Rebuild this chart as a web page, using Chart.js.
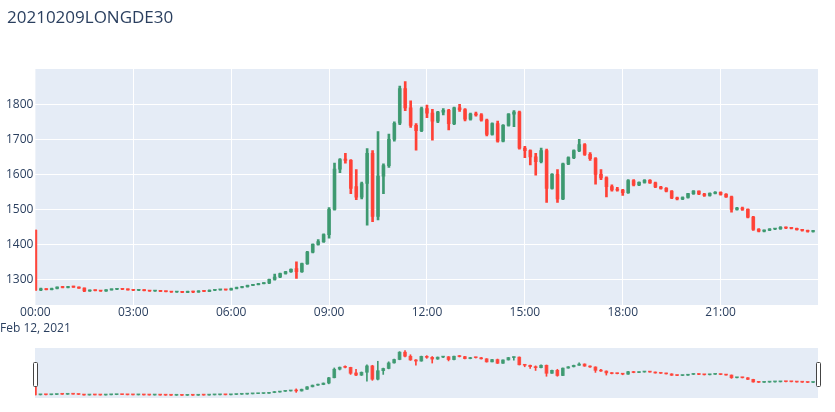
<!DOCTYPE html>
<html>
<head>
<meta charset="utf-8">
<script src="https://cdn.jsdelivr.net/npm/chart.js@4.4.0/dist/chart.umd.min.js"></script>
<style>
  body { margin: 0; background: #fff; }
  #wrap { position: relative; width: 835px; height: 412px; overflow: hidden; }
  #title { position: absolute; left: 7px; top: 8px; font-family: "Open Sans", verdana, arial, sans-serif; font-size: 17px; line-height: 17px; color: #2a3f5f; white-space: nowrap; }
  #main { position: absolute; left: 0; top: 0; }
  #slider { position: absolute; left: 0; top: 340px; }
</style>
</head>
<body>
<div id="wrap">
  <canvas id="main" width="835" height="340"></canvas>
  <canvas id="slider" width="835" height="72"></canvas>
  <div id="title">20210209LONGDE30</div>
</div>
<script>
// 10-minute candles, Feb 12 2021
const times = [
  "00:00","00:10","00:20","00:30","00:40","00:50","01:00","01:10","01:20","01:30","01:40","01:50",
  "02:00","02:10","02:20","02:30","02:40","02:50","03:00","03:10","03:20","03:30","03:40","03:50",
  "04:00","04:10","04:20","04:30","04:40","04:50","05:00","05:10","05:20","05:30","05:40","05:50",
  "06:00","06:10","06:20","06:30","06:40","06:50","07:00","07:10","07:20","07:30","07:40","07:50",
  "08:00","08:10","08:20","08:30","08:40","08:50","09:00","09:10","09:20","09:30","09:40","09:50",
  "10:00","10:10","10:20","10:30","10:40","10:50","11:00","11:10","11:20","11:30","11:40","11:50",
  "12:00","12:10","12:20","12:30","12:40","12:50","13:00","13:10","13:20","13:30","13:40","13:50",
  "14:00","14:10","14:20","14:30","14:40","14:50","15:00","15:10","15:20","15:30","15:40","15:50",
  "16:00","16:10","16:20","16:30","16:40","16:50","17:00","17:10","17:20","17:30","17:40","17:50",
  "18:00","18:10","18:20","18:30","18:40","18:50","19:00","19:10","19:20","19:30","19:40","19:50",
  "20:00","20:10","20:20","20:30","20:40","20:50","21:00","21:10","21:20","21:30","21:40","21:50",
  "22:00","22:10","22:20","22:30","22:40","22:50","23:00","23:10","23:20","23:30","23:40","23:50"
];

const open = [
  1440,1270,1273,1271,1274,1278,1277,1279,1278,1275,1267,1269,
  1268,1267,1270,1272,1273,1272,1270,1269,1270,1268,1267,1268,
  1266,1265,1264,1265,1263,1266,1264,1267,1266,1269,1270,1271,
  1270,1274,1277,1279,1283,1285,1288,1290,1300,1307,1317,1322,
  1331,1322,1345,1378,1400,1408,1428,1500,1615,1644,1640,1565,
  1535,1574,1660,1480,1595,1625,1700,1746,1845,1790,1740,1725,
  1788,1775,1752,1778,1783,1745,1790,1785,1758,1772,1770,1755,
  1714,1745,1695,1740,1772,1778,1675,1668,1650,1636,1668,1560,
  1600,1530,1630,1648,1668,1685,1657,1645,1600,1590,1565,1556,
  1555,1548,1582,1570,1577,1583,1576,1564,1560,1552,1533,1530,
  1534,1545,1552,1544,1540,1546,1549,1543,1536,1500,1504,1500,
  1478,1443,1438,1441,1444,1445,1449,1447,1446,1442,1440,1437
];

const high = [
  1442,1275,1274,1275,1279,1280,1280,1281,1279,1276,1270,1270,
  1269,1271,1273,1274,1274,1273,1271,1271,1271,1269,1269,1269,
  1267,1266,1266,1266,1267,1267,1268,1268,1270,1271,1272,1272,
  1275,1278,1280,1284,1286,1289,1291,1301,1315,1318,1323,1330,
  1350,1347,1380,1402,1414,1430,1505,1632,1645,1660,1642,1614,
  1578,1674,1668,1722,1630,1715,1750,1852,1865,1810,1745,1792,
  1798,1786,1780,1788,1786,1792,1800,1788,1775,1778,1774,1758,
  1747,1752,1742,1774,1782,1781,1680,1670,1660,1675,1672,1602,
  1614,1632,1650,1670,1700,1688,1662,1648,1614,1593,1570,1563,
  1557,1585,1585,1579,1585,1585,1578,1566,1562,1554,1535,1536,
  1546,1554,1553,1546,1547,1551,1550,1545,1538,1506,1507,1502,
  1480,1445,1442,1445,1446,1451,1450,1448,1447,1443,1441,1440
];

const low = [
  1268,1268,1270,1270,1273,1276,1276,1277,1274,1265,1266,1267,
  1266,1266,1269,1271,1271,1269,1268,1268,1267,1266,1266,1265,
  1264,1263,1263,1262,1262,1262,1263,1265,1265,1268,1269,1269,
  1269,1273,1276,1278,1282,1284,1287,1288,1298,1305,1315,1320,
  1303,1320,1343,1376,1398,1406,1418,1498,1605,1632,1545,1528,
  1530,1455,1465,1470,1545,1620,1695,1742,1782,1734,1669,1722,
  1762,1698,1748,1770,1727,1742,1780,1753,1755,1766,1752,1710,
  1712,1692,1693,1738,1736,1672,1648,1627,1598,1633,1520,1558,
  1520,1528,1628,1645,1665,1654,1640,1572,1585,1536,1552,1552,
  1540,1546,1567,1568,1575,1574,1562,1558,1550,1531,1527,1528,
  1532,1543,1542,1537,1538,1544,1541,1534,1492,1498,1497,1476,
  1440,1436,1436,1439,1442,1443,1445,1444,1441,1438,1435,1435
];

const close = [
  1270,1273,1271,1274,1278,1277,1279,1278,1275,1267,1269,1268,
  1267,1270,1272,1273,1272,1270,1269,1270,1268,1267,1268,1266,
  1265,1264,1265,1263,1266,1264,1267,1266,1269,1270,1271,1270,
  1274,1277,1279,1283,1285,1288,1290,1300,1307,1317,1322,1329,
  1322,1345,1378,1400,1408,1428,1500,1615,1642,1640,1560,1535,
  1574,1660,1480,1595,1625,1700,1746,1845,1790,1740,1725,1788,
  1775,1752,1778,1783,1745,1790,1785,1758,1772,1770,1755,1714,
  1745,1695,1740,1772,1778,1675,1668,1650,1636,1668,1560,1600,
  1530,1630,1648,1668,1685,1657,1645,1600,1590,1565,1556,1555,
  1548,1582,1570,1577,1583,1576,1564,1560,1552,1533,1530,1534,
  1545,1552,1544,1540,1546,1549,1543,1536,1500,1504,1500,1478,
  1443,1438,1441,1444,1445,1449,1447,1446,1442,1440,1437,1439
];

const xTicks = [0, 180, 360, 540, 720, 900, 1080, 1260];   // minutes
const yTicks = [1300, 1400, 1500, 1600, 1700, 1800];
const yRange = [1227, 1901];
const dateLabel = "Feb 12, 2021";

const UP = "#3D9970";
const DOWN = "#FF4136";
const FONT = '"Open Sans", verdana, arial, sans-serif';
const TXT = "#2a3f5f";

const mins = times.map(t => parseInt(t.slice(0, 2)) * 60 + parseInt(t.slice(3)));
const bodies = mins.map((m, i) => ({ x: m, y: [open[i], close[i]] }));
const wicks = mins.map((m, i) => ({ x: m, y: [low[i], high[i]] }));
const isUp = i => close[i] >= open[i];

function candleSets(bodyW, wickW) {
  return [
    {
      data: bodies, grouped: false, barThickness: bodyW, minBarLength: 1, order: 0,
      backgroundColor: c => isUp(c.dataIndex) ? "rgba(61,153,112,0.9)" : "rgba(255,65,54,0.9)",
      borderWidth: 0
    },
    {
      data: wicks, grouped: false, barThickness: wickW, order: 1,
      backgroundColor: c => isUp(c.dataIndex) ? UP : DOWN
    }
  ];
}

const plotBg = {
  id: "plotBg",
  beforeDraw(chart) {
    const a = chart.chartArea, ctx = chart.ctx;
    ctx.save();
    ctx.fillStyle = "#E5ECF6";
    ctx.fillRect(a.left, a.top, a.right - a.left, a.bottom - a.top);
    ctx.restore();
  }
};

const handles = {
  id: "handles",
  afterDraw(chart) {
    const a = chart.chartArea, ctx = chart.ctx;
    ctx.save();
    ctx.fillStyle = "#fff";
    ctx.strokeStyle = "#444";
    ctx.lineWidth = 1;
    [a.left - 2, a.right - 2].forEach(x => {
      ctx.beginPath();
      ctx.roundRect(x + 0.5, a.top + 14.5, 4, 24, 1);
      ctx.fill();
      ctx.stroke();
    });
    ctx.restore();
  }
};

function hhmm(v) {
  return String(Math.floor(v / 60)).padStart(2, "0") + ":" + String(v % 60).padStart(2, "0");
}

new Chart(document.getElementById("main"), {
  type: "bar",
  data: { datasets: candleSets(3, 2) },
  options: {
    responsive: false,
    animation: false,
    layout: { autoPadding: false, padding: { top: 69, right: 17, left: 0, bottom: 0 } },
    plugins: { legend: { display: false }, tooltip: { enabled: false } },
    scales: {
      x: {
        type: "linear", min: 0, max: 1439, offset: false,
        afterBuildTicks: s => { s.ticks = xTicks.map(v => ({ value: v })); },
        afterFit: s => { s.height = 35; },
        ticks: {
          autoSkip: false, maxRotation: 0, padding: 0,
          color: TXT, font: { family: FONT, size: 12, lineHeight: 1.3 },
          callback: v => v === 0 ? [hhmm(v), dateLabel] : hhmm(v)
        },
        grid: { color: c => (c.tick && c.tick.value === 0) ? "rgba(0,0,0,0)" : "#fff", drawTicks: false, offset: false },
        border: { display: false }
      },
      y: {
        min: yRange[0], max: yRange[1],
        afterBuildTicks: s => { s.ticks = yTicks.map(v => ({ value: v })); },
        afterFit: s => { s.width = 35; },
        ticks: { padding: 2, color: TXT, font: { family: FONT, size: 12 }, callback: v => String(v) },
        grid: { color: "#fff", drawTicks: false },
        border: { display: false }
      }
    }
  },
  plugins: [plotBg]
});

new Chart(document.getElementById("slider"), {
  type: "bar",
  data: { datasets: candleSets(3, 1) },
  options: {
    responsive: false,
    animation: false,
    layout: { autoPadding: false, padding: { top: 8, right: 17, left: 35, bottom: 14 } },
    plugins: { legend: { display: false }, tooltip: { enabled: false } },
    scales: {
      x: { type: "linear", min: 0, max: 1439, offset: false, display: false },
      y: { min: yRange[0], max: yRange[1], display: false }
    }
  },
  plugins: [plotBg, handles]
});
</script>
</body>
</html>
